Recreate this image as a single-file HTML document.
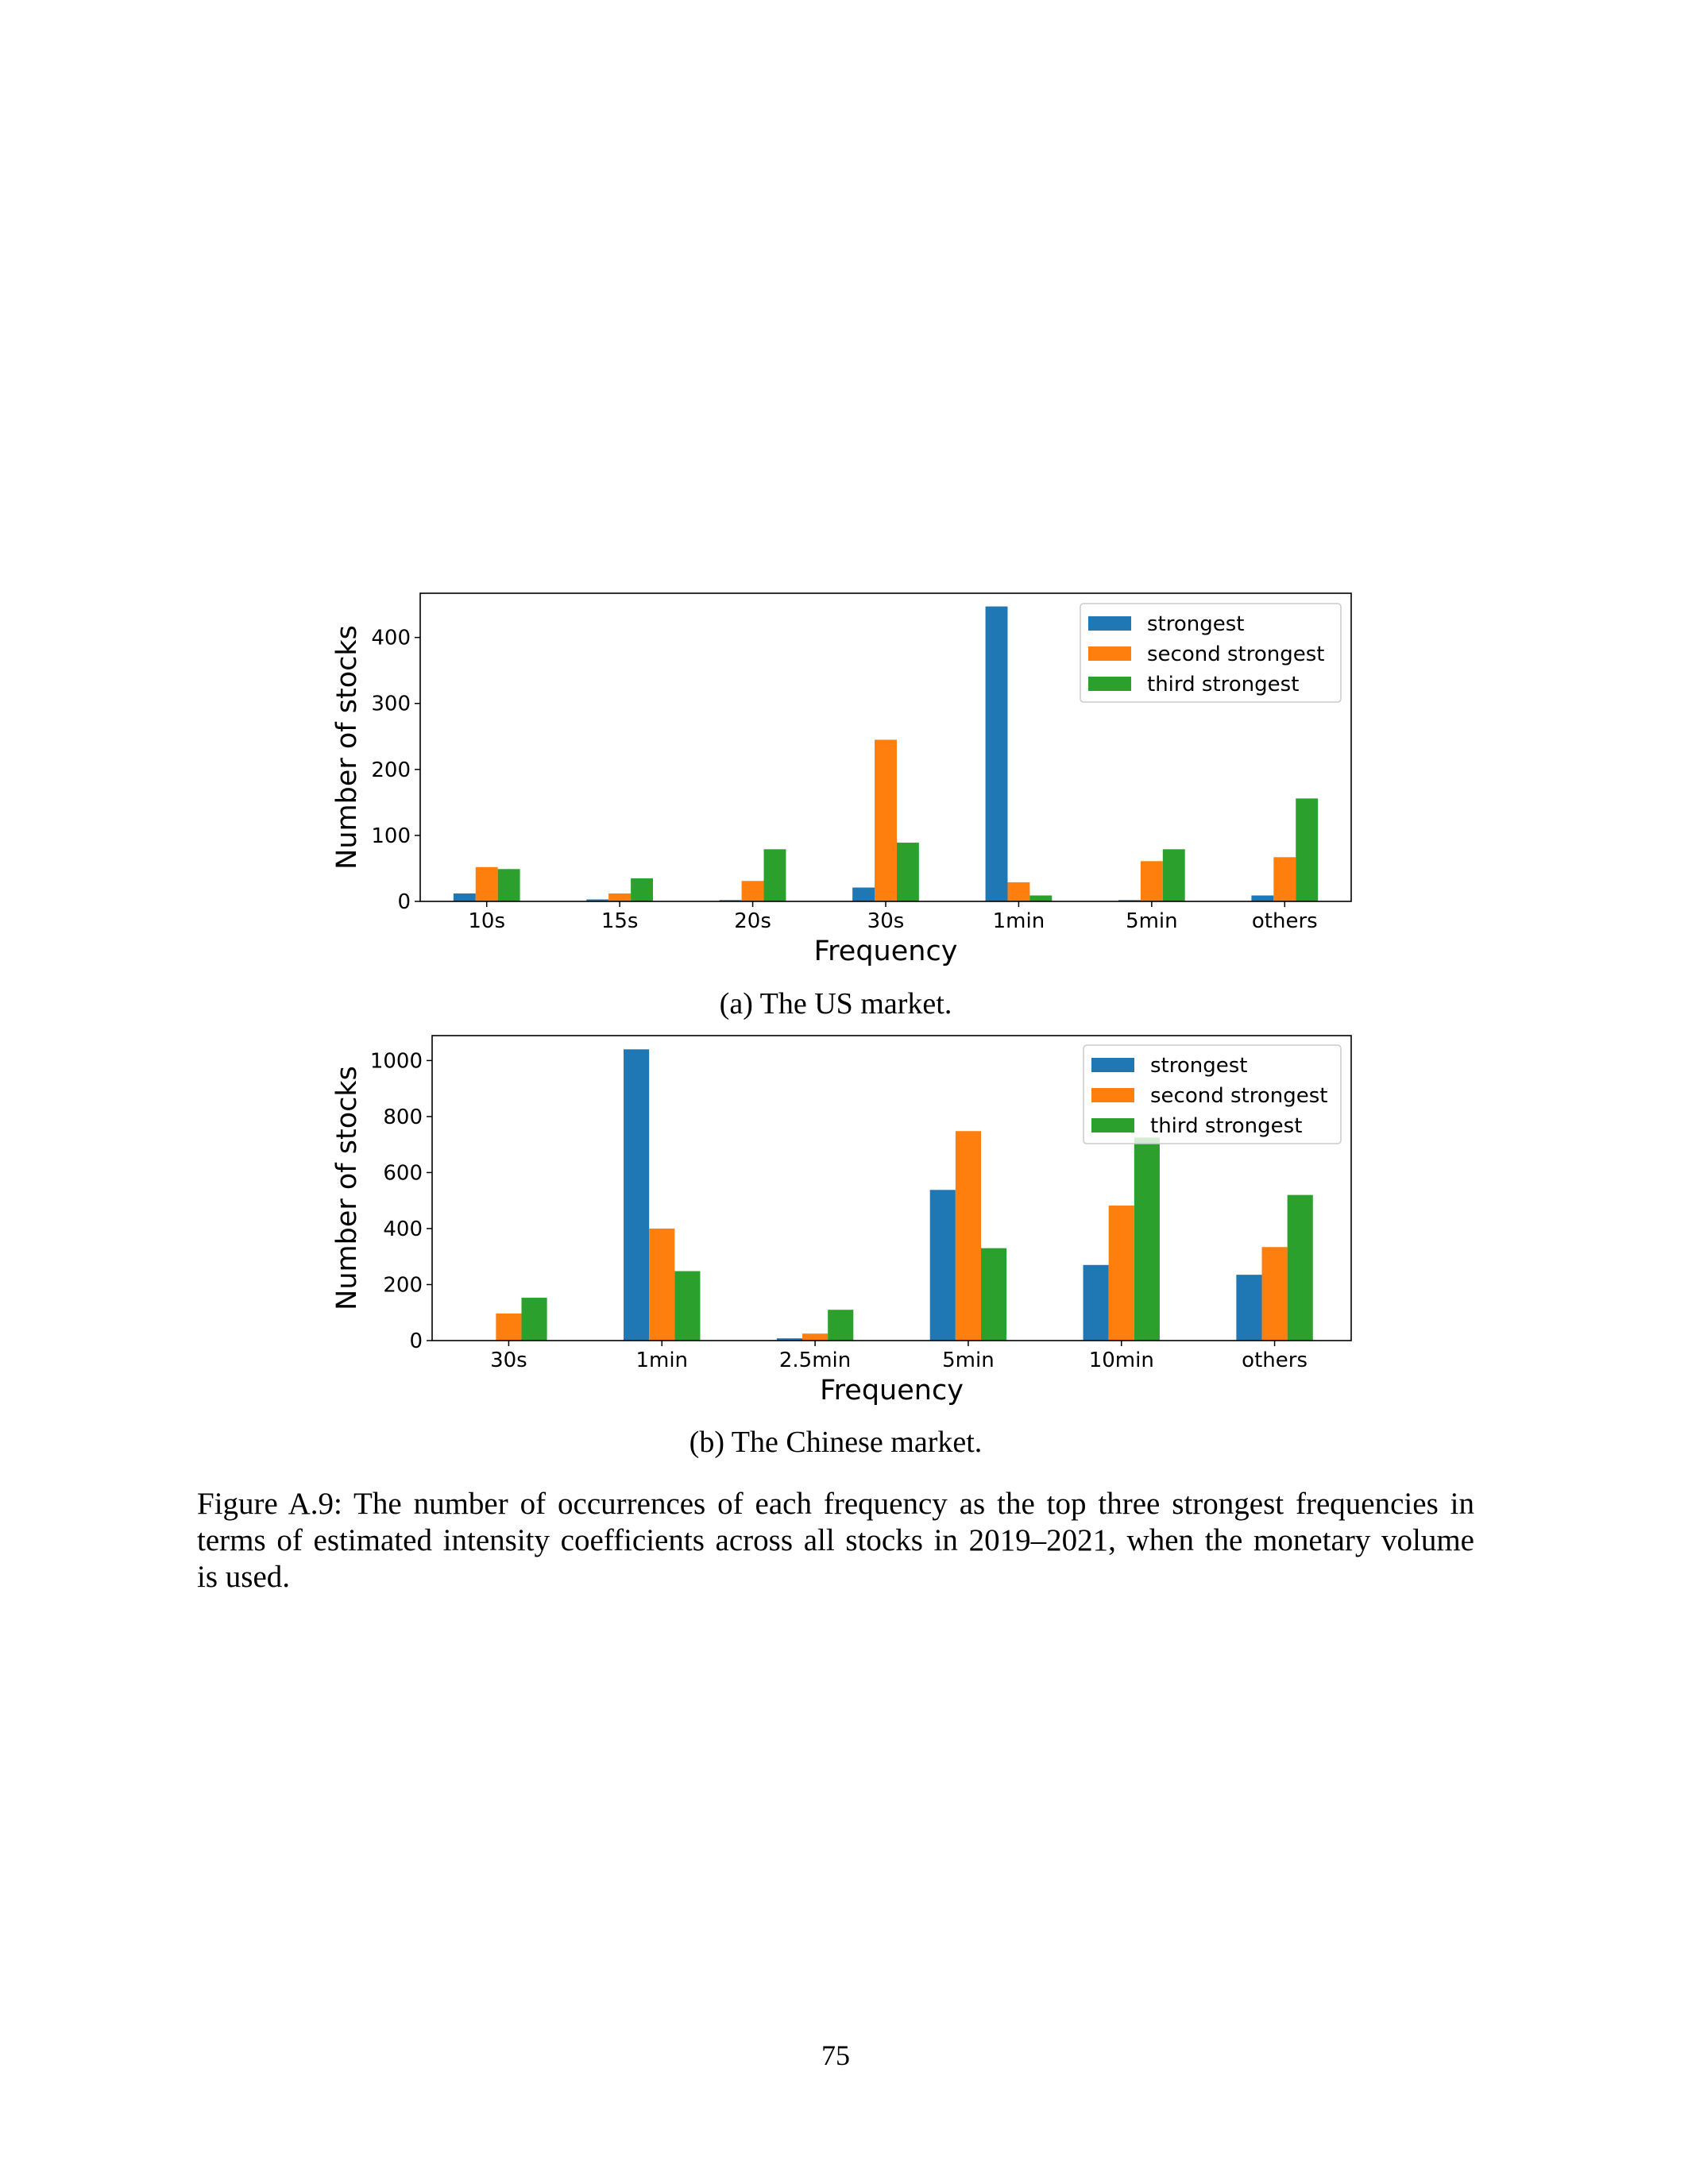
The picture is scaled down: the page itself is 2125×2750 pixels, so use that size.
<!DOCTYPE html>
<html><head><meta charset="utf-8">
<style>
html,body{margin:0;padding:0;background:#fff;}
body{width:2125px;height:2750px;position:relative;overflow:hidden;}
svg{position:absolute;left:0;top:0;}
.cap{position:absolute;left:248px;width:1608px;font-family:"Liberation Serif",serif;font-size:39px;line-height:46px;color:#000;}
.cap .j{text-align:justify;text-align-last:justify;white-space:nowrap;}
</style></head>
<body>
<svg id="fig" width="2125" height="2750"></svg>
<div class="cap" style="top:1871px"><div class="j" style="white-space:normal">Figure A.9: The number of occurrences of each frequency as the top three strongest frequencies in</div><div class="j" style="white-space:normal">terms of estimated intensity coefficients across all stocks in 2019–2021, when the monetary volume</div><div>is used.</div></div>
<script>
const usCategories = ["10s","15s","20s","30s","1min","5min","others"];
const usStrongest = [12,3,2,21,447,2,9];
const usSecond = [52,12,31,245,29,61,67];
const usThird = [49,35,79,89,9,79,156];
const usTicks = [0,100,200,300,400];
const cnCategories = ["30s","1min","2.5min","5min","10min","others"];
const cnStrongest = [0,1040,8,538,270,235];
const cnSecond = [97,400,25,748,482,334];
const cnThird = [153,248,110,330,725,520];
const cnTicks = [0,200,400,600,800,1000];
const seriesNames = ["strongest","second strongest","third strongest"];
const colors = ["#1f77b4","#ff7f0e","#2ca02c"];

const NS="http://www.w3.org/2000/svg";
const svg=document.getElementById('fig');
function mk(tag,attrs,parent){const e=document.createElementNS(NS,tag);for(const k in attrs)e.setAttribute(k,attrs[k]);(parent||svg).appendChild(e);return e;}
const FONT='"DejaVu Sans","Liberation Sans",sans-serif';

function chart(cfg){
  const g=mk('g',{});
  
  
  const n=cfg.cats.length;
  const xs=i=>cfg.L+(i+0.5)*(cfg.R-cfg.L)/n;
  const ys=v=>cfg.B-(v/cfg.ymax)*(cfg.B-cfg.T);
  const unit=(cfg.R-cfg.L)/n;
  const bw=unit*0.5/3;
  const series=[cfg.s1,cfg.s2,cfg.s3];
  series.forEach((arr,si)=>{
    arr.forEach((v,i)=>{
      const x=xs(i)-unit*0.25+si*bw;
      const r=mk('rect',{x:x,y:ys(v),width:bw,height:Math.max(0,cfg.B-ys(v)),fill:colors[si]},g);
      
      
    });
  });
  const ax=mk('rect',{x:cfg.L,y:cfg.T,width:cfg.R-cfg.L,height:cfg.B-cfg.T,fill:'none',stroke:'#000','stroke-width':1.6},g);
  
  
  cfg.ticks.forEach(t=>{
    const y=ys(t);
    mk('line',{x1:cfg.L-7,x2:cfg.L,y1:y,y2:y,stroke:'#000','stroke-width':1.5},g);
    const tx=mk('text',{x:cfg.L-12,y:y+9,'text-anchor':'end','font-family':FONT,'font-size':26},g);
    tx.textContent=t;
    
    
  });
  cfg.cats.forEach((c,i)=>{
    const x=xs(i);
    mk('line',{x1:x,x2:x,y1:cfg.B,y2:cfg.B+7,stroke:'#000','stroke-width':1.5},g);
    const tx=mk('text',{x:x,y:cfg.B+33,'text-anchor':'middle','font-family':FONT,'font-size':26},g);
    tx.textContent=c;
    
    
  });
  const xt=mk('text',{x:(cfg.L+cfg.R)/2,y:cfg.B+74,'text-anchor':'middle','font-family':FONT,'font-size':35},g);
  xt.textContent='Frequency';
  
  
  const yc=(cfg.T+cfg.B)/2;
  const yt=mk('text',{x:0,y:0,'text-anchor':'middle','font-family':FONT,'font-size':35,transform:`translate(${cfg.ylx},${yc}) rotate(-90)`},g);
  yt.textContent='Number of stocks';
  
  
  const lg=mk('g',{},g);
  
  
  mk('rect',{x:cfg.lx,y:cfg.ly,width:cfg.lw,height:124,rx:4,fill:'#fff','fill-opacity':0.8,stroke:'#ccc','stroke-width':1.5},lg);
  seriesNames.forEach((s,i)=>{
    const yy=cfg.ly+10+i*38;
    mk('rect',{x:cfg.lx+10,y:yy+6,width:54,height:18,fill:colors[i]},lg);
    const t=mk('text',{x:cfg.lx+84,y:yy+24,'font-family':FONT,'font-size':26},lg);
    t.textContent=s;
    
    
  });
}
chart({name:'us-chart',cats:usCategories,s1:usStrongest,s2:usSecond,s3:usThird,ticks:usTicks,
  L:529,R:1701,T:747,B:1135,ymax:467,ylx:448,lx:1360,ly:760,lw:328});
chart({name:'cn-chart',cats:cnCategories,s1:cnStrongest,s2:cnSecond,s3:cnThird,ticks:cnTicks,
  L:544,R:1701,T:1304,B:1688,ymax:1089,ylx:448,lx:1364,ly:1316,lw:324});

function txt(x,y,s,name,size){const t=mk('text',{x:x,y:y,'text-anchor':'middle','font-family':'"Liberation Serif",serif','font-size':size});t.textContent=s;}
txt(1052,1276,'(a) The US market.','subcaption-a',38);
txt(1052,1828,'(b) The Chinese market.','subcaption-b',38);
txt(1052,2600,'75','page-number',36);
</script>
</body></html>
